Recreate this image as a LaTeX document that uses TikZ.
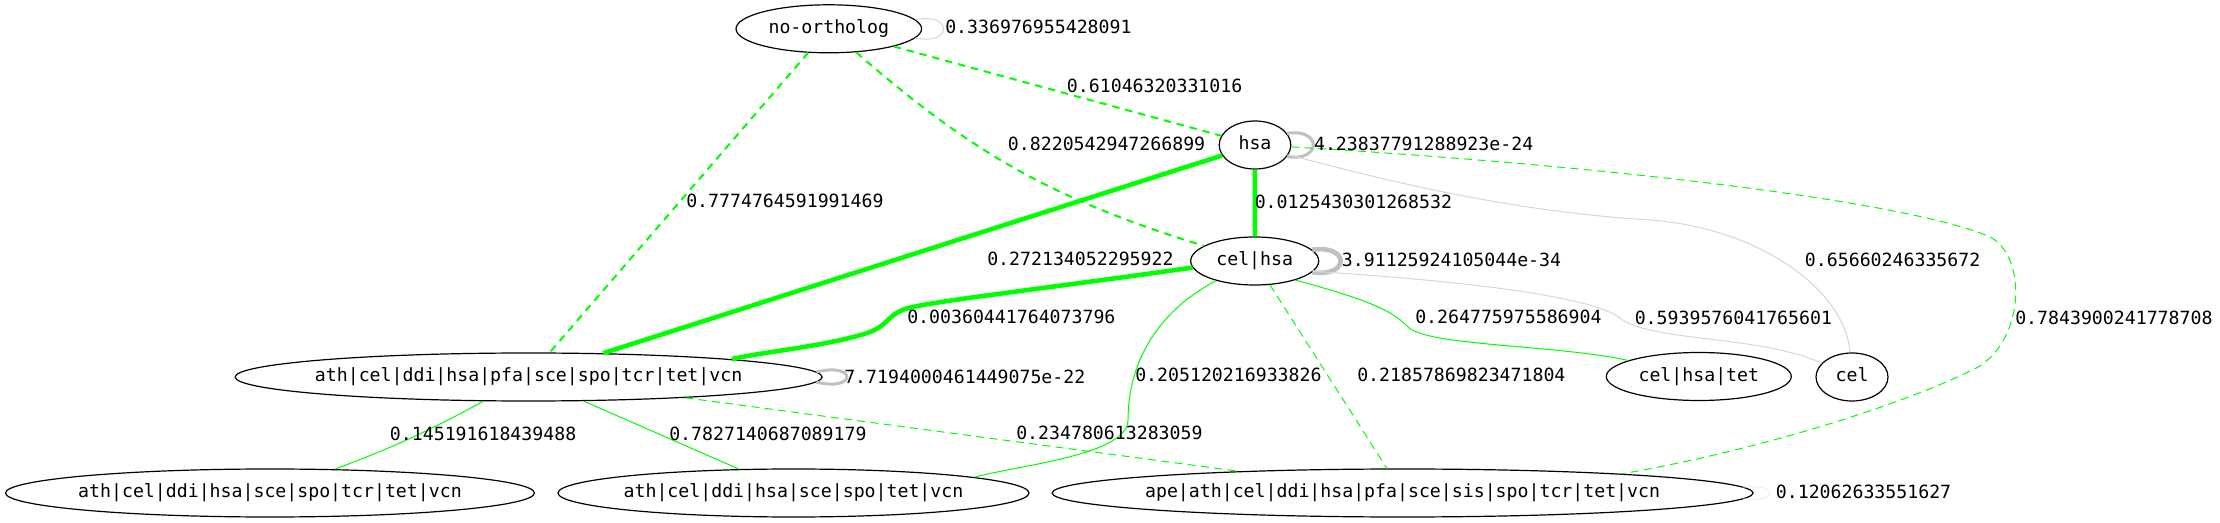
\documentclass[tikz,border=0pt]{standalone}
\usepackage{fontspec}
\usetikzlibrary{shapes.geometric}
\newfontfamily\dvm{DejaVu Sans Mono}
\newcommand\lblfont{\dvm\fontsize{13.65pt}{16pt}\selectfont}
\newcommand\nt[1]{\makebox[0pt]{\vphantom{|}#1}}
\definecolor{gv}{RGB}{0,255,0}
\definecolor{loopgray}{RGB}{192,192,192}
\definecolor{faintgray}{RGB}{214,214,214}
\definecolor{faintergray}{RGB}{238,238,238}
\tikzset{
  nd/.style={draw=black, line width=0.9pt, ellipse, inner sep=0pt, minimum height=36pt, font=\lblfont},
  lab/.style={anchor=west, inner sep=0pt, font=\lblfont},
  gthick/.style={draw=gv, line width=3.4pt},
  gdash/.style={draw=gv, line width=1.5pt, dash pattern=on 5.5pt off 4.5pt},
  gthindash/.style={draw=gv, line width=0.75pt, dash pattern=on 6pt off 4pt},
  gthin/.style={draw=gv, line width=0.75pt},
  loopline/.style={draw=loopgray},
  grayline/.style={draw=faintgray, line width=0.75pt},
}
\begin{document}
\begin{tikzpicture}[x=0.75pt,y=-0.75pt]
\useasboundingbox (0,0) rectangle (2220,523);
% nodes
\node[nd, minimum width=139.2pt] (no) at (828.8,28.8) {\nt{no-ortholog}};
\node[nd, minimum width=53.7pt] (hsa) at (1255,145) {\nt{hsa}};
\node[nd, minimum width=96pt] (ch) at (1254.7,261) {\nt{cel|hsa}};
\node[nd, minimum width=440.25pt] (big) at (528.6,377) {\nt{ath|cel|ddi|hsa|pfa|sce|spo|tcr|tet|vcn}};
\node[nd, minimum width=138.75pt] (cht) at (1698.8,376.5) {\nt{cel|hsa|tet}};
\node[nd, minimum width=54pt] (cel) at (1852,377) {\nt{cel}};
\node[nd, minimum width=396.75pt] (bl) at (270,493) {\nt{ath|cel|ddi|hsa|sce|spo|tcr|tet|vcn}};
\node[nd, minimum width=353.25pt] (bm) at (793.5,493) {\nt{ath|cel|ddi|hsa|sce|spo|tet|vcn}};
\node[nd, minimum width=525.75pt] (ape) at (1402.6,493) {\nt{ape|ath|cel|ddi|hsa|pfa|sce|sis|spo|tcr|tet|vcn}};
% self loops
\draw[loopline, draw=faintgray, line width=0.75pt] (no.6) .. controls (953,12) and (953,46) .. (no.-6);
\draw[loopline, line width=2.25pt] (hsa.20) .. controls (1322,128) and (1322,162) .. (hsa.-20);
\draw[loopline, line width=3.5pt] (ch.11) .. controls (1350,244) and (1350,278) .. (ch.-11);
\draw[loopline, line width=2.25pt] (big.1.8) .. controls (857,362) and (857,392) .. (big.-1.8);
\draw[draw=faintergray, line width=0.75pt] (ape.1) .. controls (1779,484) and (1779,502) .. (ape.-1);
% edges from no-ortholog
\draw[gdash] (no) -- (hsa);
\draw[gdash] (no) to[bend right=12] (ch);
\draw[gdash] (no) -- (big);
% thick edges
\draw[gthick] (hsa) -- (ch);
\draw[gthick] (hsa) -- (big);
\draw[gthick] (ch.186) .. controls (1050,288) and (925,302) .. (905,309)
  .. controls (888,315) and (888,325) .. (870,332)
  .. controls (830,346) and (760,352) .. (big.5.5);
% hsa to others
\draw[grayline] (hsa.-16) .. controls (1400,185) and (1520,212) .. (1650,220)
  .. controls (1760,228) and (1845,290) .. (cel);
\draw[gthindash] (hsa.-3) .. controls (1600,165) and (1900,200) .. (1988,236)
  .. controls (2030,255) and (2025,350) .. (1968,372)
  .. controls (1900,405) and (1760,450) .. (ape.5.6);
% cel|hsa to others
\draw[grayline] (ch.-10) .. controls (1450,280) and (1590,295) .. (1620,318)
  .. controls (1650,342) and (1760,335) .. (cel);
\draw[gthin] (ch.-25) .. controls (1360,298) and (1390,308) .. (1408,327)
  .. controls (1426,346) and (1560,345) .. (cht);
\draw[gthin] (ch.207) .. controls (1160,310) and (1128,360) .. (1128,420)
  .. controls (1128,455) and (1020,465) .. (bm.5.4);
\draw[gthindash] (ch) -- (ape);
% big to others
\draw[gthindash] (big) -- (ape);
\draw[gthin] (big) to[bend left=4] (bl);
\draw[gthin] (big) -- (bm);
% labels
\node[lab] (l1) at (945,27.3) {0.336976955428091};
\node[lab] (l2) at (1066.7,85.7) {0.61046320331016};
\node[lab] (l3) at (1007.7,144) {0.8220542947266899};
\node[lab] (l4) at (1313.8,144) {4.23837791288923e-24};
\node[lab] (l5) at (686,201) {0.7774764591991469};
\node[lab] (l6) at (1254.5,201.7) {0.0125430301268532};
\node[lab] (l7) at (987,259) {0.272134052295922};
\node[lab] (l8) at (1341.7,260) {3.91125924105044e-34};
\node[lab] (l9) at (1804.7,260) {0.65660246335672};
\node[lab] (l10) at (907,316.7) {0.00360441764073796};
\node[lab] (l11) at (1415,317) {0.264775975586904};
\node[lab] (l12) at (1634.5,318) {0.5939576041765601};
\node[lab] (l13) at (2015,318) {0.7843900241778708};
\node[lab] (l14) at (844,376.7) {7.7194000461449075e-22};
\node[lab] (l15) at (1135,375) {0.205120216933826};
\node[lab] (l16) at (1357,375) {0.21857869823471804};
\node[lab] (l17) at (389.7,434) {0.145191618439488};
\node[lab] (l18) at (669,434) {0.7827140687089179};
\node[lab] (l19) at (1016,433) {0.234780613283059};
\node[lab] (l20) at (1775.6,491.7) {0.12062633551627};
\end{tikzpicture}
\end{document}
